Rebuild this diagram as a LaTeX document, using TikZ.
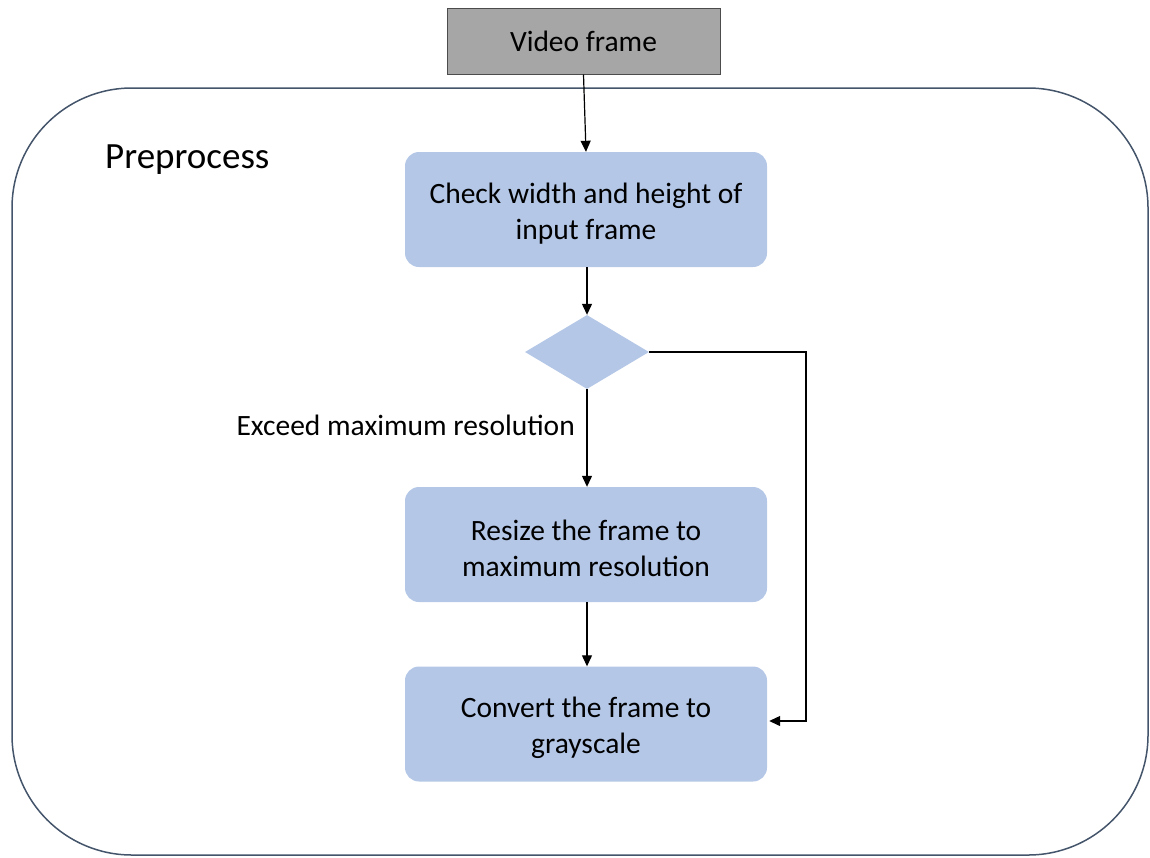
\documentclass[tikz,border=0pt]{standalone}
\usepackage{fontspec}
\setmainfont{Carlito}
\usetikzlibrary{shapes.geometric,arrows.meta}
\definecolor{boxblue}{HTML}{B4C7E7}
\definecolor{outline}{HTML}{44546A}
\definecolor{vgray}{HTML}{A6A6A6}
\newcommand{\toppad}{\rule{0pt}{29pt}}
\tikzset{
  stepbox/.style={draw=none,fill=boxblue,rounded corners=14pt,minimum width=362pt,minimum height=115pt,align=center,font=\fontsize{29.5}{36}\selectfont,inner sep=0pt},
  conn/.style={draw=black,line width=1.2pt,-{Triangle[length=11pt,width=10pt]}},
}
\begin{document}
\begin{tikzpicture}[x=1pt,y=-1pt]
\useasboundingbox (0,0) rectangle (1150,857);
\draw[outline,line width=1.5pt,rounded corners=120pt] (12,88) rectangle (1148,855);
\node[anchor=west,font=\fontsize{37}{42}\selectfont,inner sep=0pt] (pre) at (105,160) {Preprocess};
\node[draw=black!70,fill=vgray,line width=1pt,minimum width=273pt,minimum height=66pt,inner sep=0pt,font=\fontsize{29.5}{34}\selectfont] (video) at (583.5,41) {\raisebox{-2pt}{Video frame}};
\node[stepbox] (check) at (586,209.5) {\toppad Check width and height of\\input frame};
\node[diamond,fill=boxblue,minimum width=124pt,minimum height=74pt,inner sep=0pt,aspect=1.68] (dec) at (587,352) {};
\node[stepbox] (resize) at (586,544.5) {\toppad Resize the frame to\\maximum resolution};
\node[stepbox] (gray) at (586,724) {\toppad Convert the frame to\\grayscale};
\node[anchor=east,font=\fontsize{29.5}{34}\selectfont,inner sep=0pt] (exc) at (575,425) {Exceed maximum resolution};
\draw[conn] (video.south) -- (check.north);
\draw[conn] (check.south -| dec.north) -- (dec.north);
\draw[conn] (dec.south) -- (resize.north -| dec.south);
\draw[conn] (resize.south -| dec.south) -- (gray.north -| dec.south);
\coordinate (rt) at (806,352);
\draw[conn] (dec.east) -- (rt) |- ([xshift=2pt,yshift=3pt]gray.east);
\end{tikzpicture}
\end{document}
